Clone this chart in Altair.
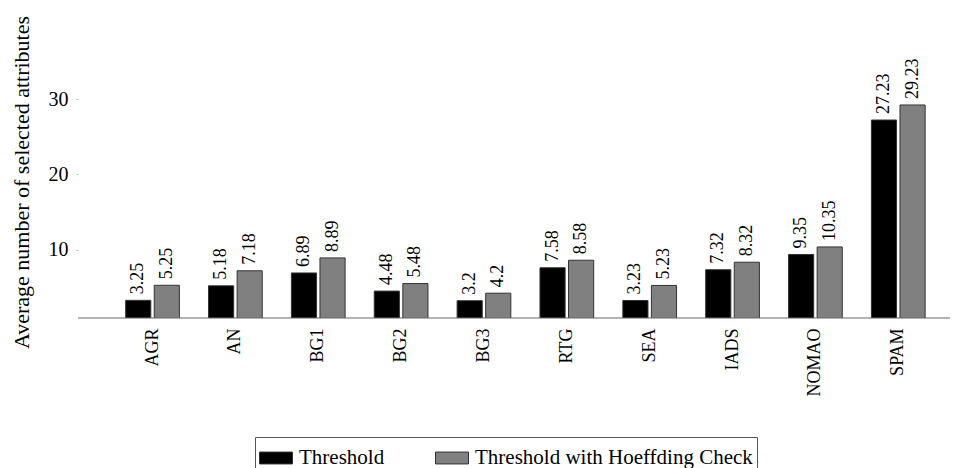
import altair as alt
import pandas as pd

categories = ["AGR", "AN", "BG1", "BG2", "BG3", "RTG", "SEA", "IADS", "NOMAO", "SPAM"]
threshold = [3.25, 5.18, 6.89, 4.48, 3.2, 7.58, 3.23, 7.32, 9.35, 27.23]
hoeffding = [5.25, 7.18, 8.89, 5.48, 4.2, 8.58, 5.23, 8.32, 10.35, 29.23]
series_names = ["Threshold", "Threshold with Hoeffding Check"]
series_colors = ["#000000", "#808080"]
y_ticks = [10, 20, 30]
y_domain = [0.9, 37.87]

rows = []
for c, a, b in zip(categories, threshold, hoeffding):
    rows.append({"cat": c, "series": series_names[0], "value": a, "label": str(a)})
    rows.append({"cat": c, "series": series_names[1], "value": b, "label": str(b)})
df = pd.DataFrame(rows)

FONT = "Liberation Serif"
W, H = 872, 278

x_scale = alt.Scale(range=[33.1, 861.7], paddingInner=0, paddingOuter=0)
x_enc = alt.X(
    "cat:N",
    sort=categories,
    scale=x_scale,
    axis=alt.Axis(
        title=None, labelAngle=270, labelAlign="right", labelBaseline="middle",
        labelPadding=10, labelFontSize=18, labelFont=FONT, labelColor="black",
        ticks=False, domain=False,
    ),
)
xoff = alt.XOffset(
    "series:N", sort=series_names,
    scale=alt.Scale(paddingInner=0.12, paddingOuter=0.51),
)
y_enc = alt.Y(
    "value:Q",
    scale=alt.Scale(domain=y_domain, zero=False, nice=False),
    axis=alt.Axis(
        title="Average number of selected attributes", values=y_ticks,
        grid=False, domain=False, tickSize=2, tickColor="#bbbbbb", tickWidth=1,
        labelPadding=8, labelFontSize=20, labelFont=FONT, labelColor="black",
        titleFont=FONT, titleFontSize=22, titleFontWeight="normal", titleColor="black",
        titleAngle=270, titleAlign="center", titleBaseline="middle",
        titleX=-57, titleY=142,
    ),
)

base = alt.Chart(df)

bars = base.mark_bar(clip=True, stroke="#333333", strokeWidth=1).encode(
    x=x_enc,
    xOffset=xoff,
    y=y_enc,
    color=alt.Color(
        "series:N", sort=series_names,
        scale=alt.Scale(domain=series_names, range=series_colors),
        legend=alt.Legend(
            title=None, orient="none", legendX=177, legendY=397,
            direction="horizontal", strokeColor="#555555", fillColor="white",
            padding=4, symbolType="M-1,-0.36H1V0.36H-1Z", symbolSize=1089,
            symbolStrokeColor="#333333", symbolStrokeWidth=1,
            labelFont=FONT, labelFontSize=21, labelColor="black",
            labelOffset=6, columnPadding=48, labelLimit=500,
        ),
    ),
)

labels = base.mark_text(
    angle=270, align="left", baseline="middle", dx=6,
    fontSize=18, font=FONT, color="black",
).encode(
    x=alt.X("cat:N", sort=categories, scale=x_scale),
    xOffset=alt.XOffset("series:N", sort=series_names),
    y=alt.Y("value:Q"),
    text=alt.Text("label:N"),
)

axis_line = alt.Chart(pd.DataFrame({"base": [y_domain[0]]})).mark_rule(
    color="#666666", strokeWidth=1.2
).encode(
    y=alt.Y("base:Q"),
    x=alt.value(0),
    x2=alt.value(W),
)

chart = (
    alt.layer(bars, labels, axis_line)
    .properties(
        width=W, height=H,
        autosize=alt.AutoSizeParams(type="none"),
        padding={"left": 70, "top": 32, "right": 0, "bottom": 150},
        background="white",
    )
    .configure_view(stroke=None)
)

chart.save("out.html", embed_options={"renderer": "svg", "actions": False})
